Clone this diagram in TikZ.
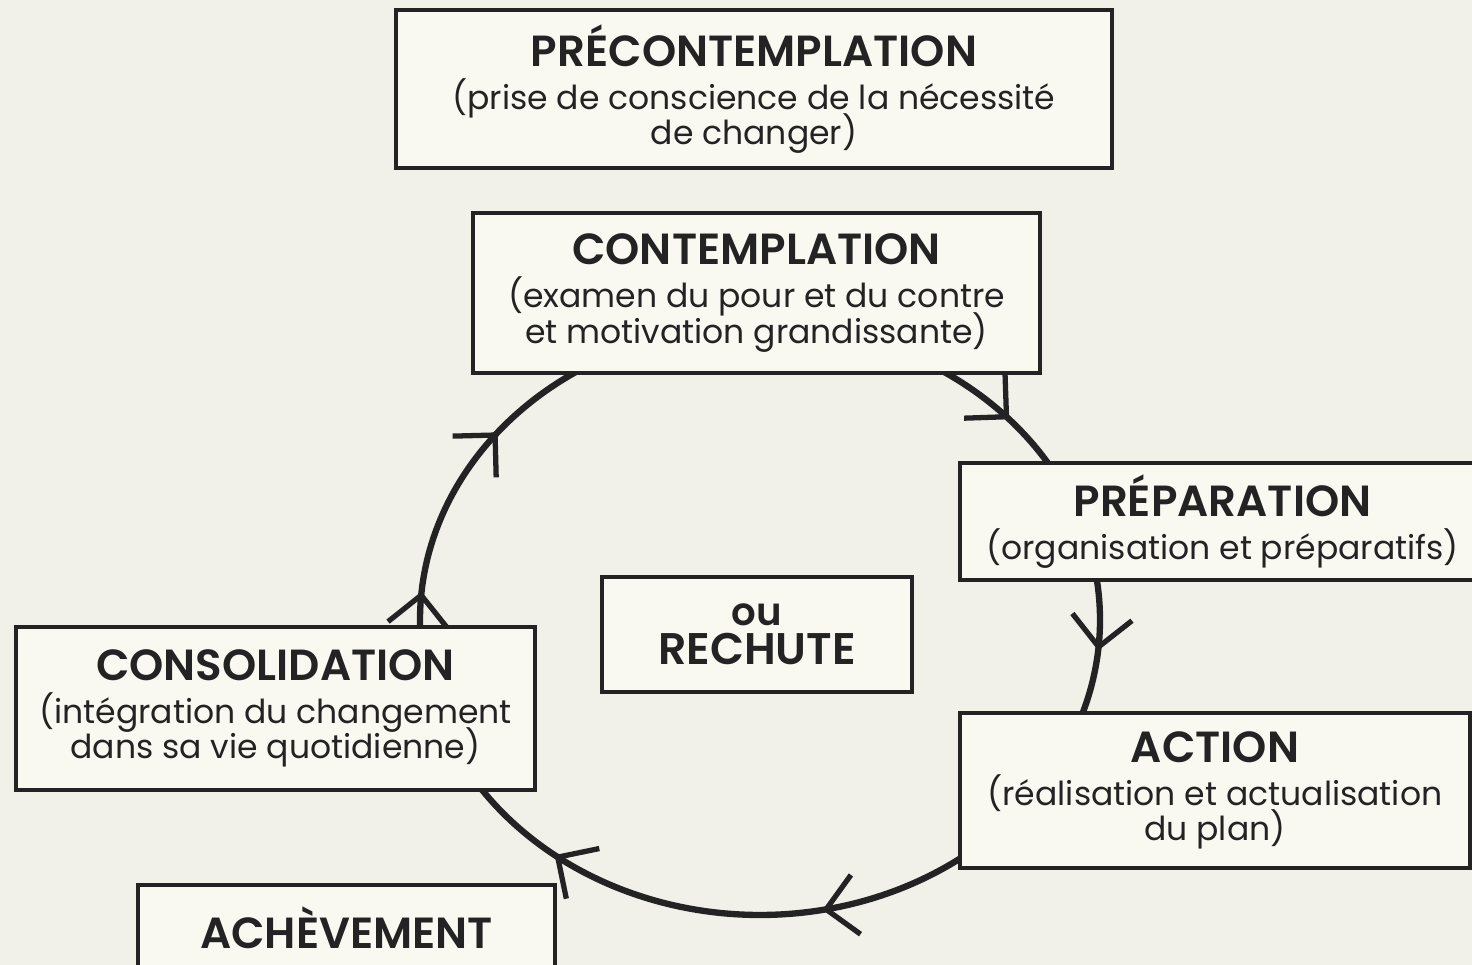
\documentclass[tikz,border=0pt]{standalone}
\usepackage{fontspec}
\setmainfont{Poppins}[BoldFont={Poppins SemiBold}]
\usetikzlibrary{arrows.meta,decorations.markings,calc}
\definecolor{paper}{RGB}{241,241,233}
\definecolor{boxfill}{RGB}{249,249,242}
\definecolor{ink}{RGB}{35,35,35}
\newcommand{\stagetitle}[1]{{\fontsize{12.4}{12.4}\selectfont\bfseries #1}}
\newcommand{\stagefont}{\fontsize{9.4}{10}\selectfont\lineskiplimit=-10pt\relax}

\begin{document}
\begin{tikzpicture}[
    stage/.style={rectangle, draw=ink, line width=0.9pt, fill=boxfill, align=center, inner sep=0pt, text=ink, font=\stagefont},
    cyc/.style={draw=ink, line width=1.8pt},
    arrowat/.style={postaction={decorate, decoration={markings, mark=at position #1 with {\arrow[ink]{Straight Barb[length=3mm,width=6mm,line width=1.5pt]}}}}}
  ]
    % fond
    \useasboundingbox (0,0) rectangle (14.72,9.65);
    \fill[paper] (0,0) rectangle (14.72,9.65);
    \clip (0,0) rectangle (14.72,9.65);

    % points du cycle
    \coordinate (ctr) at (7.60,3.45);
    \coordinate (p1) at ($(ctr)+(60:3.4 and 2.95)$);
    \coordinate (p2) at ($(ctr)+(10:3.4 and 2.95)$);
    \coordinate (p3) at ($(ctr)+(-52:3.4 and 2.95)$);
    \coordinate (p4) at ($(ctr)+(183:3.4 and 2.95)$);

    % le cycle
    \draw [cyc, arrowat=0.58] (p1) arc [start angle=60, end angle=30, x radius=3.4, y radius=2.95];
    \draw [cyc, arrowat=0.53] (p2) arc [start angle=10, end angle=-20, x radius=3.4, y radius=2.95];
    \draw [cyc, arrowat=0.29, arrowat=0.80] (p3) arc [start angle=-52, end angle=-147, x radius=3.4, y radius=2.95];
    \draw [cyc, arrowat=0.13, arrowat=0.66] (p4) arc [start angle=183, end angle=120, x radius=3.4, y radius=2.95];

    % les etapes
    \node (precont) [stage, minimum width=7.16cm, minimum height=1.58cm] at (7.54,8.76) {\stagetitle{PRÉCONTEMPLATION}\\[2.3pt] (prise de conscience de la nécessité\\ de changer)};
    \node (contemp) [stage, minimum width=5.67cm, minimum height=1.60cm] at (7.565,6.72) {\stagetitle{CONTEMPLATION}\\[2.3pt] (examen du pour et du contre\\ et motivation grandissante)};
    \node (prep) [stage, minimum width=5.25cm, minimum height=1.17cm] at (12.225,4.435) {\stagetitle{PRÉPARATION}\\[2.3pt] (organisation et préparatifs)};
    \node (rechute) [stage, minimum width=3.10cm, minimum height=1.15cm] at (7.57,3.305) {{\fontsize{11}{11}\selectfont\bfseries ou}\\[1pt] {\fontsize{12.6}{12.6}\selectfont\bfseries RECHUTE}};
    \node (consol) [stage, minimum width=5.19cm, minimum height=1.63cm] at (2.755,2.565) {\stagetitle{CONSOLIDATION}\\[2.3pt] (intégration du changement\\ dans sa vie quotidienne)};
    \node (action) [stage, minimum width=5.10cm, minimum height=1.55cm] at (12.15,1.745) {\stagetitle{ACTION}\\[2.3pt] (réalisation et actualisation\\ du plan)};
    \node (achev) [stage, minimum width=4.17cm, minimum height=0.85cm] at (3.465,0.375) {\stagetitle{ACHÈVEMENT}};
\end{tikzpicture}
\end{document}
